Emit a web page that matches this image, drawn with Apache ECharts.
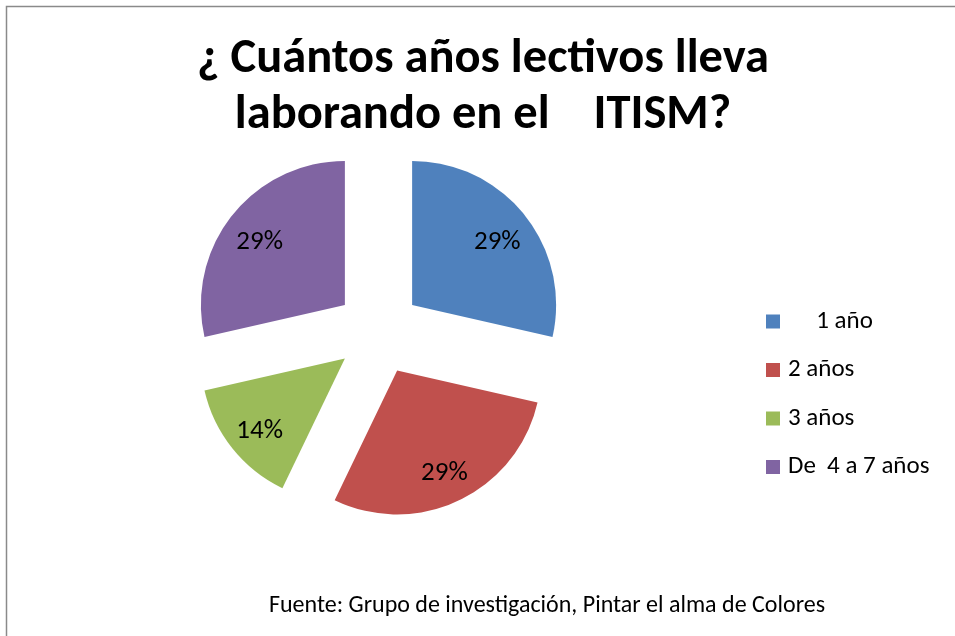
<!DOCTYPE html>
<html><head><meta charset="utf-8">
<script src="https://cdn.jsdelivr.net/npm/echarts@6/dist/echarts.min.js"></script>
<style>html,body{margin:0;padding:0;background:#fff}#c{width:955px;height:636px}</style>
</head><body><div id="c"></div>
<script>
const categories = ['     1 año', '2 años', '3 años', 'De  4 a 7 años'];
const values = [2, 2, 1, 2];
const colors = ['#4F81BD', '#C0504D', '#9BBB59', '#8064A2'];
const titleLines = ['¿ Cuántos años lectivos lleva', 'laborando en el    ITISM?'];
const sourceText = 'Fuente: Grupo de investigación, Pintar el alma de Colores';

const FONT = 'Carlito, Lato, "Open Sans", sans-serif';
const chart = echarts.init(document.getElementById('c'), null, {renderer: 'canvas'});

const mainData = categories.map((n, i) => ({name: n, value: values[i], selected: true, itemStyle: {color: colors[i]}}));
const labelData = categories.map((n, i) => ({name: n, value: values[i], selected: true}));

chart.setOption({
  animation: false,
  backgroundColor: '#fff',
  title: {
    text: titleLines.join('\n'),
    left: 483, top: 32, textAlign: 'center', padding: 0,
    textStyle: {fontFamily: FONT, fontSize: 48.5, fontWeight: 'bold', color: '#000', lineHeight: 56}
  },
  legend: {
    orient: 'vertical', left: 766, top: 309, padding: 0,
    itemWidth: 14, itemHeight: 14, itemGap: 23.5, icon: 'rect',
    selectedMode: false,
    data: categories,
    textStyle: {fontFamily: FONT, fontSize: 25, lineHeight: 25, color: '#000', padding: [0, 0, 0, 3]}
  },
  graphic: [
    {type: 'rect', silent: true, shape: {x: 6.5, y: 6.5, width: 980, height: 660},
     style: {fill: 'none', stroke: '#8a8a8a', lineWidth: 1.5}},
    {type: 'text', silent: true, x: 547, y: 606,
     style: {text: sourceText, textAlign: 'center', textVerticalAlign: 'middle', fontFamily: FONT, fontSize: 24, fill: '#000'}}
  ],
  series: [
    {
      type: 'pie', center: [378.5, 331.7], radius: [0, 144], startAngle: 90, clockwise: true,
      selectedMode: 'multiple', selectedOffset: 43, silent: true,
      label: {show: false}, labelLine: {show: false},
      itemStyle: {borderWidth: 0},
      emphasis: {disabled: true},
      data: mainData
    },
    {
      type: 'pie', center: [378.5, 331.7], radius: [68, 144], startAngle: 90, clockwise: true,
      selectedMode: 'multiple', selectedOffset: 43, silent: true,
      itemStyle: {color: 'rgba(0,0,0,0)', borderWidth: 0},
      emphasis: {disabled: true},
      labelLine: {show: false},
      labelLayout: {dy: 5},
      label: {show: true, position: 'inside', fontFamily: FONT, fontSize: 27, color: '#000',
        formatter: p => Math.round(p.percent) + '%'},
      data: labelData
    }
  ]
});
</script>
</body></html>
